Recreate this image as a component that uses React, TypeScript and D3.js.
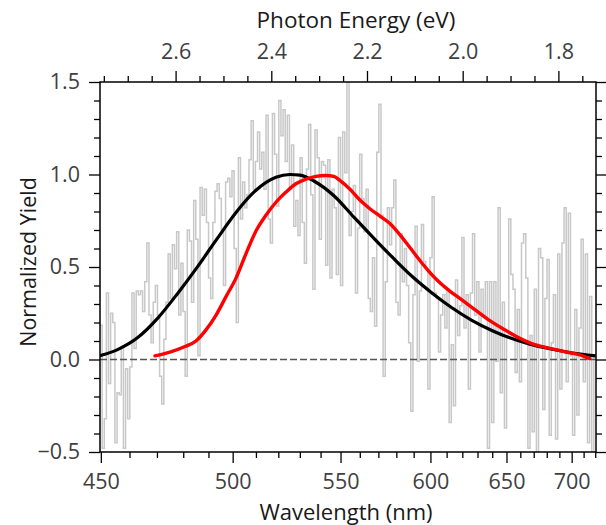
import React, { useEffect, useRef } from 'react';
import * as d3 from 'd3';

const HC = 1239.84;
// photon energy at the left and right edges of the frame (~450 nm .. ~720 nm)
const E_LEFT = 2.758;
const E_RIGHT = 1.7214;

// raw yield, equal energy bins from left to right
const noisyYield = [
  0.185, -0.48, -0.32, 0.36, -0.13, 0.25, 0.2, -0.45, -0.18, -0.19, 0.07, -0.48, -0.05, -0.32, -0.04,
  0.36, 0.06, 0.37, 0.35, 0.37, 0.26, 0.42, 0.63, 0.24, 0.09, 0.31, 0.4, 0.24, -0.09, -0.24, 0.11,
  0.31, 0.57, 0.33, 0.62, 0.49, 0.69, 0.24, 0.52, 0.26, -0.09, 0.7, 0.64,
  0.31, 0.86, 0.65, 0.02, 0.93, 0.78, 0.92, 0.74, 0.44, 0.33, 0.74, 0.91, 0.95, 0.87, 0.7, 0.4,
  0.96, 0.98, 0.88, 1.02, 0.6, 0.2, 1.09, 0.76, 0.96, 0.82, 0.89, 1.08, 1.29, 0.92, 1.07, 1.23,
  1.03, 1.12, 0.92, 1.32, 0.76, 0.63, 1.33, 1.11, 0.83, 1.4, 1.21, 1.35, 1.07,
  1.32, 0.92, 1.16, 0.72, 0.86, 0.67, 1.09, 0.74, 0.52, 1.03, 1.27, 0.89, 0.38, 1.24, 1.09, 0.65,
  1.07, 1.05, 0.51, 1.08, 0.44, 0.92, 0.82, 0.46, 1.2, 0.4, 1.23, 1.01, 1.5, 0.67, 0.8, 0.94,
  0.36, 0.71, 1.11, 0.87, 0.69, 0.92, 0.33, 0.26, 0.55, 0.18, 1.12, 1.38, 0.78, -0.09, 0.42,
  0.82, 0.62, 0.82, 0.97, 0.31, 0.24, 0.68, 0.42, 0.6, 0.4, 0.09, -0.28, 0.35, 0.72, -0.01, 0.37,
  0.73, 0.53, 0.49, -0.16, 0.55, 0.88, 0.36, 0.33, 0.04, 0.24, 0.35, 0.17, 0.38, -0.34, 0.08,
  -0.25, 0.43, 0.13, 0.29, 0.66, 0.17, 0.35, -0.16, 0.36, 0.68, 0.24, 0.42, 0.04, 0.38, 0.24, 0.42, -0.48,
  0.42, -0.34, 0.42, -0.01, 0.82, -0.18, 0.31, -0.37, 0.13, 0.76, 0.46, 0.38, -0.07, 0.27, -0.12,
  0.63, 0.68, 0.44, -0.48, 0.13, -0.39, 0.38, -0.5, 0.6, 0.55, -0.27, 0.33, 0.54, -0.41, 0.09,
  0.35, -0.43, 0.57, -0.16, 0.63, 0.82, -0.12, 0.79, 0.02, -0.41, 0.27, -0.3, 0.17, 0.65, -0.12,
  0.57, -0.45, 0.34, -0.5, 0.02,
];

// black curve
const fitWavelength = [449.5, 455.8, 462.9, 470.2, 477.8, 485.6, 492.9, 501.2, 509.8, 518.7, 525.1,
  529.8, 536.5, 546.4, 556.6, 567.3, 578.3, 588.7, 600.6, 613.0, 625.9, 639.4, 652.0, 666.7, 682.0,
  698.0, 720.0];
const fitYield = [0.02, 0.055, 0.12, 0.225, 0.36, 0.505, 0.645, 0.795, 0.915, 0.985, 1.0,
  0.997, 0.965, 0.885, 0.77, 0.655, 0.545, 0.45, 0.36, 0.28, 0.212, 0.157, 0.117, 0.083, 0.058,
  0.038, 0.02];

// red curve
const expWavelength = [469.1, 474.7, 480.5, 484.8, 488.8, 492.9, 497.0, 501.2, 505.4, 509.8, 514.2,
  518.7, 523.3, 527.9, 532.7, 537.5, 542.4, 546.4, 549.4, 554.6, 559.8, 565.1, 570.6, 576.1, 581.7,
  587.5, 593.4, 599.4, 605.5, 611.7, 618.1, 627.9, 638.0, 648.5, 659.3, 670.4, 682.0, 694.0, 706.3,
  714.8];
const expYield = [0.02, 0.04, 0.07, 0.1, 0.16, 0.24, 0.34, 0.44, 0.57, 0.695, 0.78,
  0.85, 0.905, 0.95, 0.975, 0.99, 0.995, 0.99, 0.968, 0.92, 0.862, 0.815, 0.775, 0.735, 0.675,
  0.605, 0.535, 0.47, 0.415, 0.37, 0.33, 0.27, 0.21, 0.16, 0.115, 0.08, 0.06, 0.042, 0.025,
  0.005];

const energyMajor = [2.6, 2.4, 2.2, 2.0, 1.8];
const energyMinor = [2.75, 2.7, 2.65, 2.55, 2.5, 2.45, 2.35, 2.3, 2.25, 2.15, 2.1, 2.05, 1.95, 1.9, 1.85, 1.75];
const wlMajor = [450, 500, 550, 600, 650, 700];
const wlMinor = [460, 470, 480, 490, 510, 520, 530, 540, 560, 570, 580, 590, 610, 620, 630, 640,
  660, 670, 680, 690, 710, 720];
const yMajor = [-0.5, 0, 0.5, 1.0, 1.5];
const yMinor = [-0.4, -0.3, -0.2, -0.1, 0.1, 0.2, 0.3, 0.4, 0.6, 0.7, 0.8, 0.9, 1.1, 1.2, 1.3, 1.4];

const W = 606;
const H = 525;
const FONT = '"Open Sans", "Noto Sans", sans-serif';

const App = () => {
  const ref = useRef<SVGSVGElement | null>(null);

  useEffect(() => {
    const svg = d3.select(ref.current);
    svg.selectAll('*').remove();

    const left = 100, right = 596, top = 82, bottom = 452;

    const x = d3.scaleLinear().domain([E_LEFT, E_RIGHT]).range([left, right]);
    const y = d3.scaleLinear().domain([-0.5, 1.5]).range([bottom, top]);
    const xWl = (wl: number) => x(HC / wl);

    svg.append('defs').append('clipPath').attr('id', 'plot-clip')
      .append('rect').attr('x', left).attr('y', top).attr('width', right - left).attr('height', bottom - top);

    const plot = svg.append('g').attr('clip-path', 'url(#plot-clip)');

    // noisy step trace
    const bin = (E_LEFT - E_RIGHT) / noisyYield.length;
    const steps = noisyYield.map((v, i) => [E_LEFT - i * bin, v]);
    steps.push([E_RIGHT, noisyYield[noisyYield.length - 1]]);
    plot.append('path')
      .datum(steps)
      .attr('fill', 'none')
      .attr('stroke', '#c8c8c8')
      .attr('stroke-width', 1.5)
      .attr('d', d3.line<number[]>().x(d => x(d[0])).y(d => y(d[1])).curve(d3.curveStepAfter));

    // zero line
    plot.append('line')
      .attr('x1', left).attr('x2', right)
      .attr('y1', y(0)).attr('y2', y(0))
      .attr('stroke', '#555')
      .attr('stroke-width', 1.3)
      .attr('stroke-dasharray', '7,3');

    const fitPts = fitWavelength.map((wl, i) => [xWl(wl), y(fitYield[i])] as [number, number]);
    plot.append('path')
      .attr('fill', 'none')
      .attr('stroke', '#000')
      .attr('stroke-width', 3.2)
      .attr('d', d3.line().curve(d3.curveMonotoneX)(fitPts));

    const expPts = expWavelength.map((wl, i) => [xWl(wl), y(expYield[i])] as [number, number]);
    plot.append('path')
      .attr('fill', 'none')
      .attr('stroke', '#ff0000')
      .attr('stroke-width', 3.4)
      .attr('stroke-linecap', 'round')
      .attr('d', d3.line().curve(d3.curveMonotoneX)(expPts));

    // frame
    svg.append('rect')
      .attr('x', left).attr('y', top)
      .attr('width', right - left).attr('height', bottom - top)
      .attr('fill', 'none')
      .attr('stroke', '#000')
      .attr('stroke-width', 1.5);

    const styleAxis = (g: d3.Selection<SVGGElement, unknown, null, undefined>) => {
      g.select('.domain').remove();
      g.selectAll('line').attr('stroke', '#000').attr('stroke-width', 1.3);
      g.selectAll('text')
        .attr('fill', '#404040')
        .style('font-family', FONT)
        .style('font-size', '21.5px');
    };

    // top: photon energy
    svg.append('g').attr('transform', `translate(0,${top})`)
      .call(d3.axisTop(x).tickValues(energyMinor).tickSize(6).tickFormat(() => ''))
      .call(styleAxis);
    svg.append('g').attr('transform', `translate(0,${top})`)
      .call(d3.axisTop(x).tickValues(energyMajor).tickSize(11).tickPadding(12).tickFormat(d3.format('.1f')))
      .call(styleAxis);

    // bottom: wavelength, placed on the energy scale
    const xw = d3.scaleLinear().domain([HC / E_LEFT, HC / E_RIGHT]).range([left, right]);
    const bottomMinor = d3.axisBottom(xw).tickValues(wlMinor).tickSize(6).tickFormat(() => '');
    const bottomMajor = d3.axisBottom(xw).tickValues(wlMajor).tickSize(11).tickPadding(11).tickFormat(d3.format('d'));
    const gbMin = svg.append('g').attr('transform', `translate(0,${bottom})`).call(bottomMinor).call(styleAxis);
    const gbMaj = svg.append('g').attr('transform', `translate(0,${bottom})`).call(bottomMajor).call(styleAxis);
    [gbMin, gbMaj].forEach(g => g.selectAll<SVGGElement, number>('.tick')
      .attr('transform', d => `translate(${xWl(d)},0)`));

    // left and right: yield
    svg.append('g').attr('transform', `translate(${left},0)`)
      .call(d3.axisLeft(y).tickValues(yMinor).tickSize(6).tickFormat(() => ''))
      .call(styleAxis);
    svg.append('g').attr('transform', `translate(${left},0)`)
      .call(d3.axisLeft(y).tickValues(yMajor).tickSize(11).tickPadding(9).tickFormat(d3.format('.1f')))
      .call(styleAxis);
    svg.append('g').attr('transform', `translate(${right},0)`)
      .call(d3.axisRight(y).tickValues(yMinor).tickSize(6).tickFormat(() => ''))
      .call(styleAxis);
    svg.append('g').attr('transform', `translate(${right},0)`)
      .call(d3.axisRight(y).tickValues(yMajor).tickSize(11).tickFormat(() => ''))
      .call(styleAxis);

    // titles
    svg.append('text')
      .attr('x', 356).attr('y', 28)
      .attr('text-anchor', 'middle')
      .attr('fill', '#1a1a1a')
      .style('font-family', FONT).style('font-size', '22.5px')
      .text('Photon Energy (eV)');
    svg.append('text')
      .attr('x', 346).attr('y', 520)
      .attr('text-anchor', 'middle')
      .attr('fill', '#1a1a1a')
      .style('font-family', FONT).style('font-size', '22px')
      .text('Wavelength (nm)');
    svg.append('text')
      .attr('transform', `translate(36,262) rotate(-90)`)
      .attr('text-anchor', 'middle')
      .attr('fill', '#1a1a1a')
      .style('font-family', FONT).style('font-size', '21.5px')
      .text('Normalized Yield');
  }, []);

  return (
    <svg ref={ref} width={W} height={H}
      style={{ position: 'absolute', left: 0, top: 0, background: '#fff' }} />
  );
};

export default App;
